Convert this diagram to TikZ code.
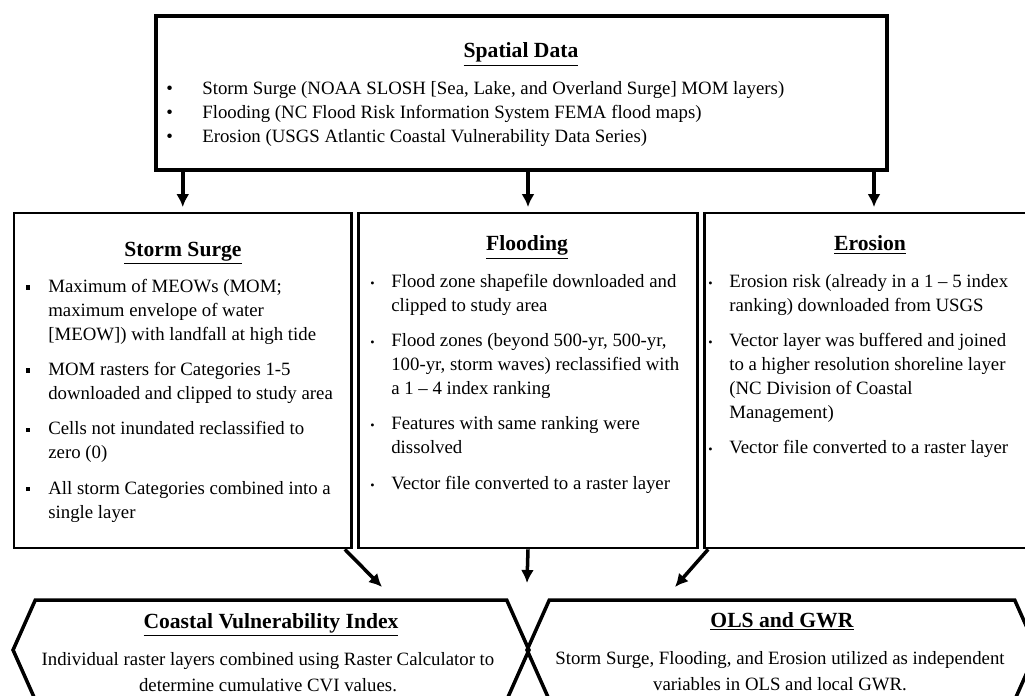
\documentclass[tikz,border=0pt]{standalone}
\usepackage{fontspec}
\setmainfont{Liberation Serif}
\usetikzlibrary{arrows.meta,shapes.symbols}
\newcommand{\sqitem}{\hangindent=0.48cm\hangafter=1\noindent\makebox[0.48cm][l]{\hspace{0.8pt}\rule[1.7pt]{2.4pt}{2.4pt}}\ignorespaces}
\newcommand{\dotitem}{\hangindent=0.42cm\hangafter=1\noindent\makebox[0.42cm][l]{{\fontsize{7}{7}\selectfont\textbullet}}\ignorespaces}
\newcommand{\hd}[1]{\underline{\textbf{#1}}}

\begin{document}
\begin{tikzpicture}[x=0.02cm,y=-0.02cm,
    box/.style={draw,line width=1.6pt,minimum height=6.7cm},
    hexbox/.style={draw,line width=2pt,shape=signal,signal to=west and east,signal pointer angle=132,minimum height=2cm},
    head/.style={font=\fontsize{12.3}{14}\selectfont,inner sep=0pt,anchor=base},
    body/.style={font=\fontsize{10.7}{13.6}\selectfont,inner sep=0pt,anchor=north west,text width=6.4cm,align=flush left,execute at begin node={\setlength{\parskip}{6.5pt}}},
    arr/.style={line width=2pt,-{Latex[length=0.26cm,width=0.26cm]}}]
    \useasboundingbox (0,0) rectangle (1025,696);
    \node[draw,line width=2.2pt,minimum width=14.62cm,minimum height=3.08cm] (sd) at (521.5,93) {};
    \node[head] (sdh) at (521,58) {\hd{Spatial Data}};
    \node[font=\fontsize{10.7}{13.6}\selectfont,inner sep=0pt,anchor=north west,align=left] (sdl) at (166,81)
        {\makebox[0.72cm][l]{\textbullet}Storm Surge (NOAA SLOSH [Sea, Lake, and Overland Surge] MOM layers)\\
         \makebox[0.72cm][l]{\textbullet}Flooding (NC Flood Risk Information System FEMA flood maps)\\
         \makebox[0.72cm][l]{\textbullet}Erosion (USGS Atlantic Coastal Vulnerability Data Series)};

    \node[box,minimum width=6.75cm] (ss) at (182.75,380.5) {};
    \node[box,minimum width=6.78cm] (fl) at (528,380.5) {};
    \node[box,minimum width=6.78cm] (er) at (874,380.5) {};
    \node[head] (ssh) at (183,256) {\hd{Storm Surge}};
    \node[head] (flh) at (527,251) {\hd{Flooding}};
    \node[head] (erh) at (870,251) {\hd{Erosion}};
    \node[body] (ssl) at (24,279)
        {\sqitem Maximum of MEOWs (MOM;\newline maximum envelope of water\newline [MEOW]) with landfall at high tide\par
         \sqitem MOM rasters for Categories 1-5\newline downloaded and clipped to study area\par
         \sqitem Cells not inundated reclassified to\newline zero (0)\par
         \sqitem All storm Categories combined into a\newline single layer\par};
    \node[body] (fll) at (370,274)
        {\dotitem Flood zone shapefile downloaded and\newline clipped to study area\par
         \dotitem Flood zones (beyond 500-yr, 500-yr,\newline 100-yr, storm waves) reclassified with\newline a 1 – 4 index ranking\par
         \dotitem Features with same ranking were\newline dissolved\par
         \dotitem Vector file converted to a raster layer\par};
    \node[body] (erl) at (708,274)
        {\dotitem Erosion risk (already in a 1 – 5 index\newline ranking) downloaded from USGS\par
         \dotitem Vector layer was buffered and joined\newline to a higher resolution shoreline layer\newline (NC Division of Coastal\newline Management)\par
         \dotitem Vector file converted to a raster layer\par};

    \node[hexbox,minimum width=10.32cm] (cvi) at (271,650) {};
    \node[hexbox,minimum width=10.2cm] (ols) at (782,650) {};
    \node[head] (cvih) at (271,628) {\hd{Coastal Vulnerability Index}};
    \node[head] (olsh) at (782,627) {\hd{OLS and GWR}};
    \node[font=\fontsize{10.7}{13.6}\selectfont,inner sep=0pt,anchor=north,align=center] (cvib) at (268,652)
        {Individual raster layers combined using Raster Calculator to\\[1.5pt] determine cumulative CVI values.};
    \node[font=\fontsize{10.7}{13.6}\selectfont,inner sep=0pt,anchor=north,align=center] (olsb) at (780,651)
        {Storm Surge, Flooding, and Erosion utilized as independent\\[1.5pt] variables in OLS and local GWR.};

    \coordinate (cviin) at (382,587);
    \coordinate (midin) at (527,583);
    \coordinate (olsin) at (675,587);
    \draw[arr,shorten >=0.09cm] (ss.north |- sd.south) -- (ss.north);
    \draw[arr,shorten >=0.09cm] (fl.north |- sd.south) -- (fl.north);
    \draw[arr,shorten >=0.09cm] (er.north |- sd.south) -- (er.north);
    \draw[arr] ([xshift=-0.16cm]ss.south east) -- (cviin);
    \draw[arr] (fl.south) -- (midin);
    \draw[arr] ([xshift=0.1cm]er.south west) -- (olsin);
\end{tikzpicture}
\end{document}
